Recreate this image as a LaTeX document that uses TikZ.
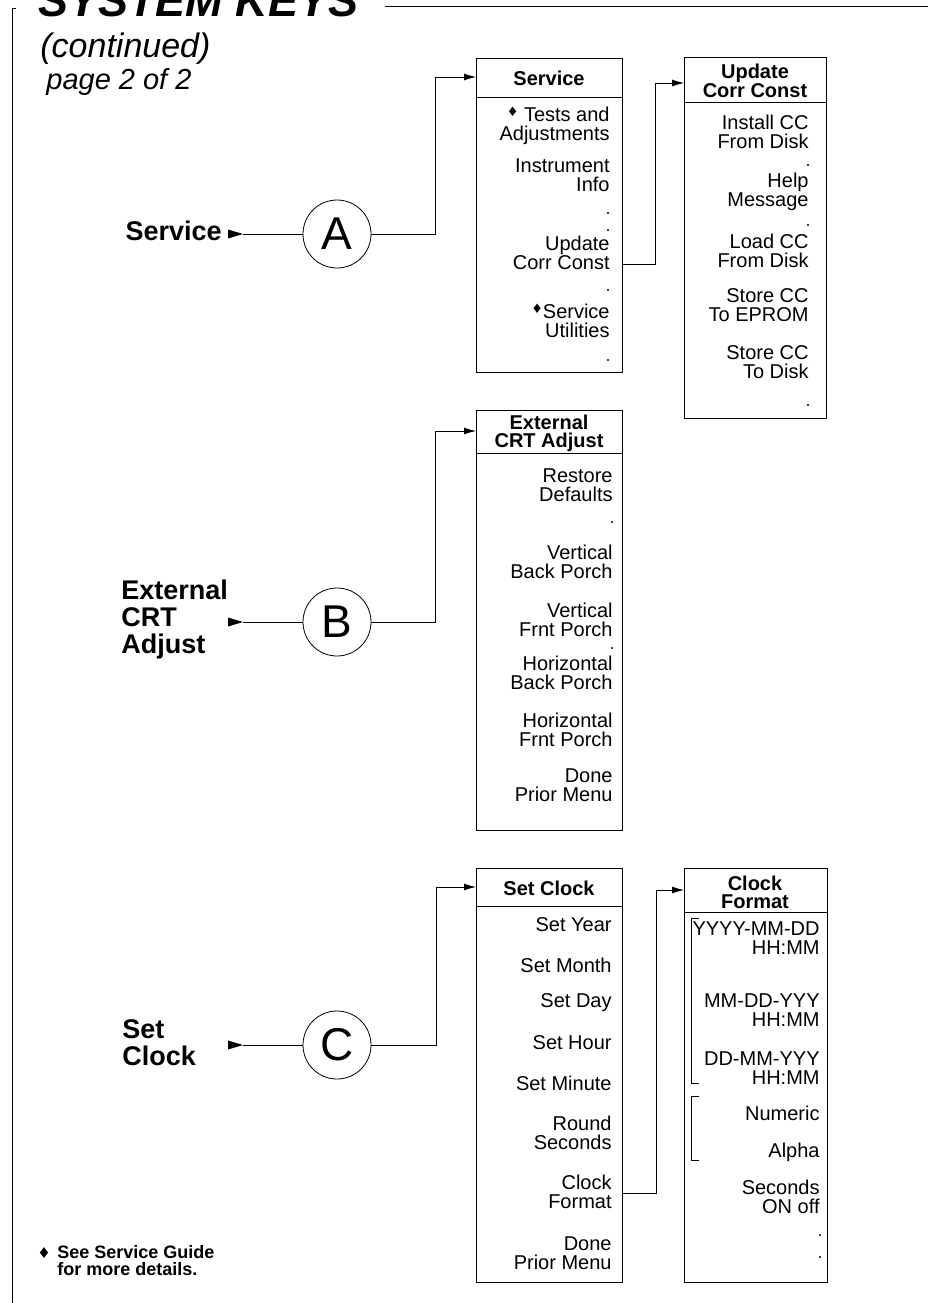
\documentclass[tikz,border=0pt]{standalone}
\usepackage{fontspec}
\setmainfont{Liberation Sans}
\newfontfamily\symf{DejaVu Sans}
\usetikzlibrary{arrows.meta}
\newcommand{\dmd}{{\symf\fontsize{13}{13}\selectfont\raisebox{5pt}{♦}}}
\begin{document}
\begin{tikzpicture}[x=1pt,y=-1pt, line width=0.8pt,
  item/.style={font=\fontsize{20}{19}\selectfont, align=right, inner sep=0pt, anchor=east},
  head/.style={font=\bfseries\fontsize{20}{18}\selectfont, align=center, inner sep=0pt},
  menubox/.style={draw, inner sep=0pt, anchor=north west},
  keylbl/.style={font=\bfseries\fontsize{27}{27}\selectfont, align=left, inner sep=0pt},
  letter/.style={circle, draw, minimum size=68pt, inner sep=0pt, font=\fontsize{46}{46}\selectfont},
  conn/.style={line width=0.8pt},
  arr/.style={-{Latex[length=12pt,width=7pt]}},
  brk/.style={line width=0.6pt}
]
\useasboundingbox (0,0) rectangle (928,1303);
% frame
\draw[conn] (12,8) -- (12,1303);
\draw[conn] (12,8) -- (16,8);
\draw[conn] (385,6) -- (928,6);
% titles
\node[anchor=base west, inner sep=0pt, font=\bfseries\itshape\fontsize{45}{45}\selectfont] (title) at (38,17) {SYSTEM KEYS};
\node[anchor=base west, inner sep=0pt, font=\itshape\fontsize{34}{34}\selectfont] (cont) at (40,58) {(continued)};
\node[anchor=base west, inner sep=0pt, font=\itshape\fontsize{29}{29}\selectfont] (page) at (46,90) {page 2 of 2};

% ---------- Service menu ----------
\node[menubox, minimum width=146pt, minimum height=314pt] (svc) at (476,58) {};
\draw (476,97) -- (622,97);
\node[head] (svcH) at (549,78) {Service};
\node[item] (svc1) at (610,126) {\dmd\ Tests and\\Adjustments};
\node[item] (svc2) at (610,175) {Instrument\\Info};
\fill (608,213) circle (1.1pt);
\fill (608,230) circle (1.1pt);
\node[item] (svc3) at (610,253) {Update\\Corr Const};
\fill (608,290) circle (1.1pt);
\node[item] (svc4) at (610,321) {\dmd Service\\Utilities};
\fill (608,360) circle (1.1pt);

% ---------- Update Corr Const menu ----------
\node[menubox, minimum width=142pt, minimum height=361pt] (upd) at (684,57) {};
\draw (684,102) -- (826,102);
\node[head] (updH) at (755,81) {Update\\Corr Const};
\node[item] (upd1) at (809,132) {Install CC\\From Disk};
\fill (808,165) circle (1.1pt);
\node[item] (upd2) at (809,192) {Help\\Message};
\fill (808,225) circle (1.1pt);
\node[item] (upd3) at (809,251) {Load CC\\From Disk};
\node[item] (upd4) at (809,305) {Store CC\\To EPROM};
\node[item] (upd5) at (809,362) {Store CC\\To Disk};
\fill (808,405) circle (1.1pt);

% ---------- External CRT Adjust menu ----------
\node[menubox, minimum width=146pt, minimum height=420pt] (ext) at (476,410) {};
\draw (476,453) -- (622,453);
\node[head] (extH) at (549,433) {External\\CRT Adjust};
\node[item] (ext1) at (613,485) {Restore\\Defaults};
\fill (612,522) circle (1.1pt);
\node[item] (ext2) at (613,562) {Vertical\\Back Porch};
\node[item] (ext3) at (613,620) {Vertical\\Frnt Porch};
\fill (612,648) circle (1.1pt);
\node[item] (ext4) at (613,673) {Horizontal\\Back Porch};
\node[item] (ext5) at (613,730) {Horizontal\\Frnt Porch};
\node[item] (ext6) at (613,785) {Done\\Prior Menu};

% ---------- Set Clock menu ----------
\node[menubox, minimum width=146pt, minimum height=414pt] (clk) at (476,868) {};
\draw (476,906) -- (622,906);
\node[head] (clkH) at (549,888) {Set Clock};
\node[item] (clk1) at (612,925) {Set Year};
\node[item] (clk2) at (612,965) {Set Month};
\node[item] (clk3) at (612,1003) {Set Day};
\node[item] (clk4) at (612,1043) {Set Hour};
\node[item] (clk5) at (612,1083) {Set Minute};
\node[item] (clk6) at (612,1133) {Round\\Seconds};
\node[item] (clk7) at (612,1192) {Clock\\Format};
\node[item] (clk8) at (612,1253) {Done\\Prior Menu};

% ---------- Clock Format menu ----------
\node[menubox, minimum width=143pt, minimum height=414pt] (fmt) at (684,868) {};
\draw (684,912) -- (827,912);
\node[head] (fmtH) at (755,892) {Clock\\Format};
\node[item] (fmt1) at (820,938) {YYYY-MM-DD\\HH:MM};
\node[item] (fmt2) at (820,1010) {MM-DD-YYY\\HH:MM};
\node[item] (fmt3) at (820,1068) {DD-MM-YYY\\HH:MM};
\node[item] (fmt4) at (820,1113) {Numeric};
\node[item] (fmt5) at (820,1152) {Alpha};
\node[item] (fmt6) at (820,1197) {Seconds\\ON off};
\fill (820,1235) circle (1.1pt);
\fill (820,1257) circle (1.1pt);
\draw[brk] (699,918) -- (691,918) -- (691,1083) -- (699,1083);
\draw[brk] (699,1096) -- (691,1096) -- (691,1160) -- (699,1160);

% ---------- key labels and circles ----------
\node[keylbl, anchor=east] (Lsvc) at (222,231) {Service};
\node[keylbl, anchor=west] (Lext) at (121,620) {External\\CRT\\Adjust};
\node[keylbl, anchor=west] (Lclk) at (122,1043) {Set\\Clock};

\node[letter] (A) at (337,234) {A};
\node[letter] (B) at (337,622) {B};
\node[letter] (C) at (337,1045) {C};

\coordinate (Atip) at (243,234);
\coordinate (Btip) at (243,622);
\coordinate (Ctip) at (243,1045);
\fill (228,229.5) -- (Atip) -- (228,238.5) -- cycle;
\fill (228,617.5) -- (Btip) -- (228,626.5) -- cycle;
\fill (228,1040.5) -- (Ctip) -- (228,1049.5) -- cycle;
\draw[conn] (Atip) -- (A.west);
\draw[conn] (Btip) -- (B.west);
\draw[conn] (Ctip) -- (C.west);

% ---------- connectors ----------
\coordinate (svcIn) at (476,77);
\coordinate (extIn) at (476,431);
\coordinate (clkIn) at (476,887);
\draw[conn,arr] (A.east) -- ++(64,0) |- (svcIn);
\draw[conn,arr] (B.east) -- ++(64,0) |- (extIn);
\draw[conn,arr] (C.east) -- ++(65,0) |- (clkIn);

\coordinate (svcUpdOut) at (622,264);
\coordinate (updIn) at (684,83);
\draw[conn,arr] (svcUpdOut) -- ++(33,0) |- (updIn);
\coordinate (clkFmtOut) at (622,1193);
\coordinate (fmtIn) at (684,890);
\draw[conn,arr] (clkFmtOut) -- ++(34,0) |- (fmtIn);

% ---------- footnote ----------
\node[inner sep=0pt, font=\symf\fontsize{15}{15}\selectfont] (fnd) at (44,1253) {♦};
\node[anchor=west, align=left, inner sep=0pt, font=\bfseries\fontsize{18}{17}\selectfont] (fn) at (57,1261) {See Service Guide\\for more details.};
\end{tikzpicture}
\end{document}
